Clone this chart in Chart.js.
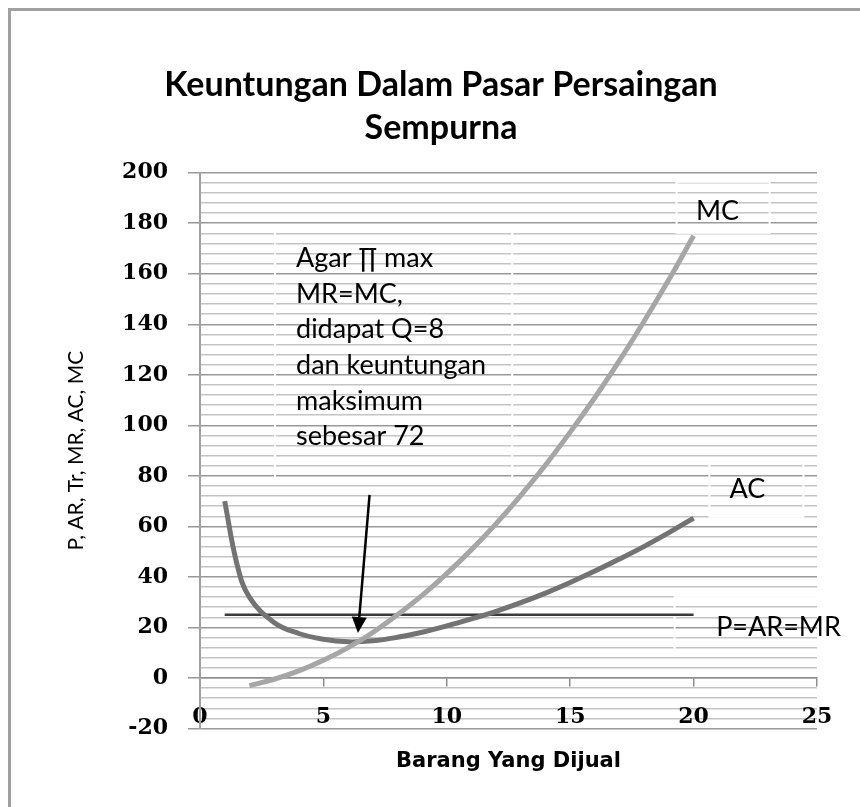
<!DOCTYPE html>
<html>
<head>
<meta charset="utf-8">
<script src="https://cdn.jsdelivr.net/npm/chart.js@4.4.1/dist/chart.umd.min.js"></script>
<style>
  html, body { margin: 0; padding: 0; background: #fff; }
  #wrap { width: 860px; height: 807px; position: relative; }
</style>
</head>
<body>
<div id="wrap"><canvas id="profitChart"></canvas></div>
<script>
// Quantities (Q) and cost / revenue values
const qAC = [1, 1.5, 2, 3, 4, 5, 6, 7, 8, 9, 10, 11, 12, 13, 14, 15, 16, 17, 18, 19, 20];
const acValues = [70, 45, 32, 22, 17.6, 15.3, 14.3, 14.7, 16.1, 18.1, 20.6, 23.4, 26.4, 29.8, 33.6, 37.8, 42.3, 47.1, 52.1, 57.5, 63.3];

const qMC = [2, 3, 4, 5, 6, 7, 8, 9, 10, 11, 12, 13, 14, 15, 16, 17, 18, 19, 20];
const mcValues = [-3, -0.5, 2.8, 7, 12, 18, 25, 32.7, 41.3, 50.8, 61.1, 72.3, 84.3, 97.3, 111, 125.7, 141.3, 157.7, 175];

const qPrice = [1, 20];
const priceValues = [25, 25];

const xTicks = [0, 5, 10, 15, 20, 25];
const yMajorTicks = [-20, 0, 20, 40, 60, 80, 100, 120, 140, 160, 180, 200];

const noteLines = ['Agar \u220F max', 'MR=MC,', 'didapat Q=8', 'dan keuntungan', 'maksimum', 'sebesar 72'];

function toPoints(xs, ys) {
  return xs.map((x, i) => ({ x: x, y: ys[i] }));
}

const tickFont = { family: 'DejaVu Serif', size: 22, weight: 'bold' };
const textFont = '27px Lato';

// frame, text boxes, labels and arrow
const decor = {
  id: 'decor',
  beforeDraw(chart) {
    const c = chart.ctx;
    c.save();
    c.fillStyle = '#fff';
    c.fillRect(0, 0, chart.width, chart.height);
    c.strokeStyle = '#a0a0a0';
    c.lineWidth = 3;
    c.beginPath();
    c.moveTo(9.5, chart.height);
    c.lineTo(9.5, 9.5);
    c.lineTo(chart.width, 9.5);
    c.stroke();
    c.restore();
  },
  beforeDatasetsDraw(chart) {
    const c = chart.ctx, xs = chart.scales.x, ys = chart.scales.y;
    const boxes = [[3.04, 177, 12.65, 77], [19.31, 196.4, 23.08, 176.2], [20.64, 85.1, 24.45, 63.8], [19.23, 32, 25.6, 11]];
    c.save();
    c.strokeStyle = '#fff';
    c.lineWidth = 2;
    boxes.forEach(b => {
      const x0 = xs.getPixelForValue(b[0]), y0 = ys.getPixelForValue(b[1]);
      const x1 = xs.getPixelForValue(b[2]), y1 = ys.getPixelForValue(b[3]);
      c.strokeRect(x0, y0, x1 - x0, y1 - y0);
    });
    c.restore();
  },
  afterDatasetsDraw(chart) {
    const c = chart.ctx, xs = chart.scales.x, ys = chart.scales.y;
    c.save();
    c.fillStyle = '#000';
    c.font = textFont;
    c.textBaseline = 'middle';
    c.textAlign = 'left';
    const nx = xs.getPixelForValue(3.89), ny = ys.getPixelForValue(166);
    noteLines.forEach((t, i) => c.fillText(t, nx, ny + i * 35.6));
    c.textAlign = 'center';
    c.fillText('MC', xs.getPixelForValue(20.97), ys.getPixelForValue(184.6));
    c.fillText('AC', xs.getPixelForValue(22.18), ys.getPixelForValue(74.5));
    c.fillText('P=AR=MR', xs.getPixelForValue(23.44), ys.getPixelForValue(20.2));

    // arrow
    const ax0 = xs.getPixelForValue(6.87), ay0 = ys.getPixelForValue(72.5);
    const ax1 = xs.getPixelForValue(6.4), ay1 = ys.getPixelForValue(17.8);
    const ang = Math.atan2(ay1 - ay0, ax1 - ax0);
    const head = 16, half = 7.5;
    const bx = ax1 - head * Math.cos(ang), by = ay1 - head * Math.sin(ang);
    c.strokeStyle = '#000';
    c.lineWidth = 2.5;
    c.beginPath();
    c.moveTo(ax0, ay0);
    c.lineTo(bx, by);
    c.stroke();
    c.beginPath();
    c.moveTo(ax1, ay1);
    c.lineTo(bx + half * Math.sin(ang), by - half * Math.cos(ang));
    c.lineTo(bx - half * Math.sin(ang), by + half * Math.cos(ang));
    c.closePath();
    c.fill();
    c.restore();
  }
};

const ctx = document.getElementById('profitChart').getContext('2d');
const profitChart = new Chart(ctx, {
  type: 'line',
  data: {
    datasets: [
      {
        label: 'MC',
        data: toPoints(qMC, mcValues),
        borderColor: '#a6a6a6',
        borderWidth: 5,
        tension: 0.4
      },
      {
        label: 'AC',
        data: toPoints(qAC, acValues),
        borderColor: '#737373',
        borderWidth: 5,
        tension: 0.4
      },
      {
        label: 'P=AR=MR',
        data: toPoints(qPrice, priceValues),
        borderColor: '#3a3a3a',
        borderWidth: 2.5
      }
    ]
  },
  options: {
    responsive: true,
    maintainAspectRatio: false,
    animation: false,
    layout: { padding: { left: 22, right: 0, top: 0, bottom: 78.5 } },
    elements: { point: { radius: 0 }, line: { capBezierPoints: true } },
    plugins: {
      legend: { display: false },
      tooltip: { enabled: false },
      title: {
        display: true,
        text: ['Keuntungan Dalam Pasar Persaingan', 'Sempurna'],
        color: '#000',
        font: { family: 'Lato', size: 34, weight: 'bold', lineHeight: 1.26 },
        padding: { top: 64, bottom: 23 }
      }
    },
    scales: {
      x: {
        type: 'linear',
        min: 0,
        max: 25,
        position: { y: 0 },
        afterBuildTicks: s => { s.ticks = xTicks.map(v => ({ value: v })); },
        grid: { drawOnChartArea: false, drawTicks: true, tickLength: 8, color: '#8c8c8c', lineWidth: 1.5 },
        border: { display: true, color: '#8c8c8c', width: 1.5 },
        ticks: { padding: 18, font: tickFont, color: '#000', maxRotation: 0 },
        title: {
          display: true,
          text: 'Barang Yang Dijual',
          color: '#000',
          font: { family: 'DejaVu Sans', size: 21, weight: 'bold' },
          padding: { top: 1, bottom: 0 }
        }
      },
      y: {
        min: -20,
        max: 200,
        afterFit: s => { s.width = 178; },
        ticks: {
          stepSize: 4,
          autoSkip: false,
          padding: 20,
          font: tickFont,
          color: '#000',
          callback: v => yMajorTicks.includes(v) ? v : ''
        },
        grid: {
          color: c => yMajorTicks.includes(c.tick.value) ? '#999999' : '#c4c4c4',
          lineWidth: 1.5,
          tickLength: 12,
          tickColor: c => yMajorTicks.includes(c.tick.value) ? '#999999' : 'rgba(0,0,0,0)'
        },
        border: { color: '#a0a0a0', width: 2 },
        title: {
          display: true,
          text: 'P, AR, Tr, MR, AC, MC',
          color: '#000',
          font: { family: 'Lato', size: 21 },
          padding: { top: 42, bottom: 0 }
        }
      },
      yRight: {
        position: 'right',
        display: true,
        afterFit: s => { s.width = 43; },
        grid: { display: false, drawTicks: false },
        border: { display: false },
        ticks: { display: false }
      }
    }
  },
  plugins: [decor]
});
</script>
</body>
</html>
